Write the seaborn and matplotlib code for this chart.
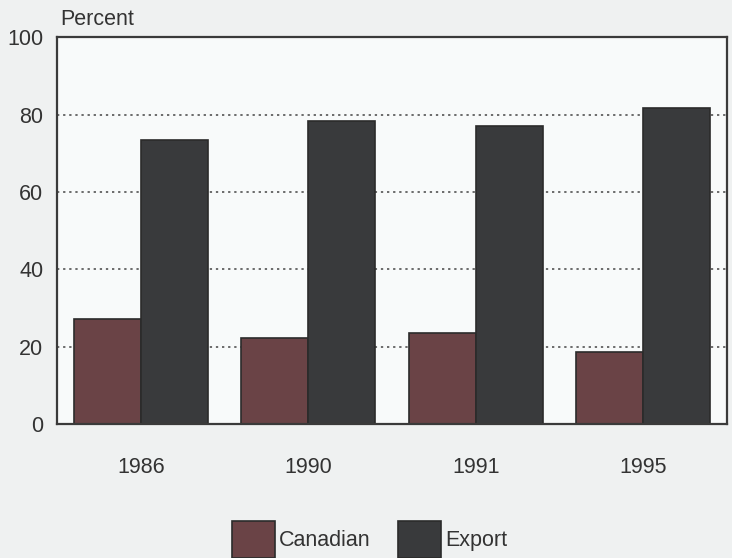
import matplotlib
matplotlib.use("Agg")
import matplotlib.pyplot as plt
import seaborn as sns
import pandas as pd

years = ["1986", "1990", "1991", "1995"]
canadian = [27.2, 22.2, 23.5, 18.7]
export = [73.5, 78.5, 77.1, 81.7]
series = ["Canadian", "Export"]
colors = ["#6a4346", "#393a3c"]
y_ticks = [0, 20, 40, 60, 80, 100]

df = pd.DataFrame({
    "year": years * 2,
    "share": canadian + export,
    "market": [series[0]] * len(years) + [series[1]] * len(years),
})

sns.set_theme(style="white")
plt.rcParams["font.family"] = ["Liberation Sans", "DejaVu Sans"]

fig = plt.figure(figsize=(7.32, 5.58), dpi=100, facecolor="#eff1f1")
ax = fig.add_axes([0.0779, 0.2401, 0.9151, 0.6927])
ax.set_facecolor("#f8fafa")

sns.barplot(data=df, x="year", y="share", hue="market", order=years,
            hue_order=series, palette=colors, width=0.8, saturation=1,
            edgecolor="#2b2b2b", linewidth=1.2, ax=ax, legend=True)

ax.set_ylim(0, 100)
ax.set_xlim(-0.5, 3.5)
ax.set_yticks(y_ticks)
ax.set_yticklabels([str(v) for v in y_ticks], fontsize=15.5, color="#333333")
ax.tick_params(axis="x", labelsize=15.5, colors="#333333", pad=24, length=0)
ax.tick_params(axis="y", length=0, pad=10)
ax.set_xlabel("")
ax.set_ylabel("")

for v in y_ticks[1:-1]:
    ax.axhline(v, color="#444444", linestyle=(0, (1.5, 2.5)), linewidth=1.1, zorder=0.5)

for side in ["left", "top", "right", "bottom"]:
    ax.spines[side].set_visible(True)
    ax.spines[side].set_color("#3a3a3a")
    ax.spines[side].set_linewidth(1.6)

ax.text(0.005, 1.032, "Percent", transform=ax.transAxes, fontsize=15.5,
        color="#333333", ha="left", va="baseline")

handles, labels = ax.get_legend_handles_labels()
ax.legend_.remove()
fig.legend(handles, labels, loc="lower center", bbox_to_anchor=(0.505, -0.035),
           ncol=2, frameon=False, fontsize=15.5, handlelength=2.0,
           handleheight=2.3, handletextpad=0.2, columnspacing=1.25,
           labelcolor="#333333")

fig.savefig("out.png", dpi=100, facecolor=fig.get_facecolor())
